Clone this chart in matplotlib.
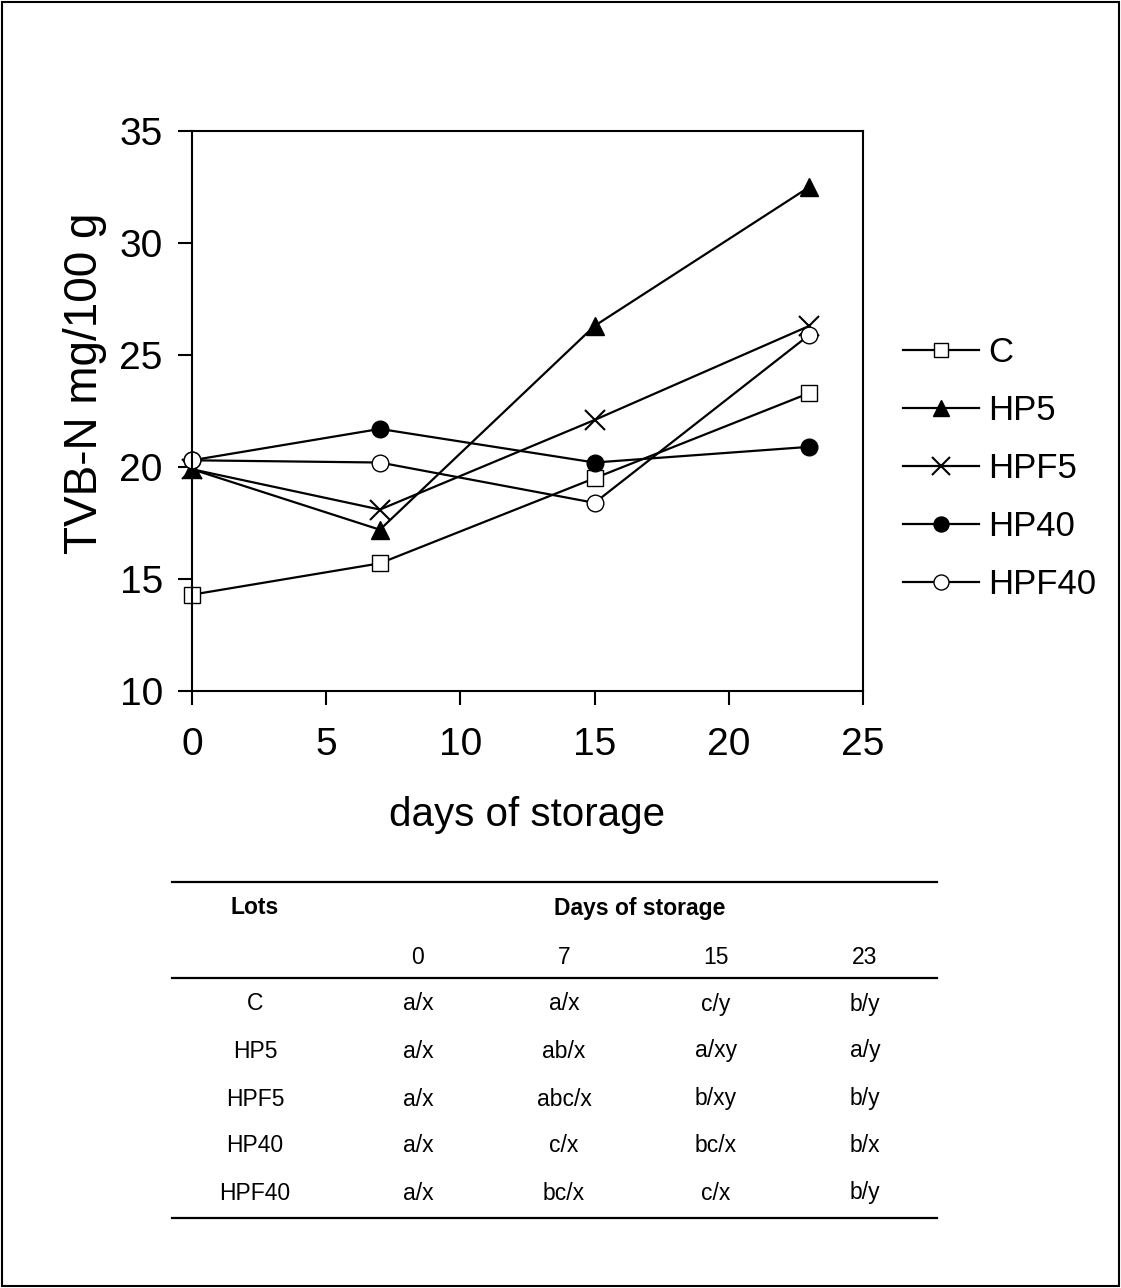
import numpy as np
import matplotlib.pyplot as plt
from matplotlib.lines import Line2D

plt.rcParams['font.family'] = ['Liberation Sans', 'DejaVu Sans']

days = [0, 7, 15, 23]
lots = ["C", "HP5", "HPF5", "HP40", "HPF40"]
tvbn_c = [14.3, 15.7, 19.5, 23.3]
tvbn_hp5 = [19.9, 17.2, 26.3, 32.5]
tvbn_hpf5 = [19.9, 18.1, 22.1, 26.3]
tvbn_hp40 = [20.3, 21.7, 20.2, 20.9]
tvbn_hpf40 = [20.3, 20.2, 18.4, 25.9]

# significance letters for the table below the chart
sig_c = ["a/x", "a/x", "c/y", "b/y"]
sig_hp5 = ["a/x", "ab/x", "a/xy", "a/y"]
sig_hpf5 = ["a/x", "abc/x", "b/xy", "b/y"]
sig_hp40 = ["a/x", "c/x", "bc/x", "b/x"]
sig_hpf40 = ["a/x", "bc/x", "c/x", "b/y"]

W, H = 1121, 1288
fig = plt.figure(figsize=(W / 100, H / 100), dpi=100)
ax = fig.add_axes([192 / W, 1 - 691 / H, (863 - 192) / W, 560 / H])

styles = [
    dict(marker="s", mfc="white", ms=11),
    dict(marker="^", mfc="black", ms=13),
    dict(marker="x", mfc="black", ms=14, mew=1.5),
    dict(marker="o", mfc="black", ms=12),
    dict(marker="o", mfc="white", ms=12),
]
series = [tvbn_c, tvbn_hp5, tvbn_hpf5, tvbn_hp40, tvbn_hpf40]
for name, vals, st in zip(lots, series, styles):
    ax.plot(days, vals, color="black", lw=1.6, mec="black", label=name,
            clip_on=False, **st)

ax.set_xlim(0, 25)
ax.set_ylim(10, 35)
ax.set_xticks([0, 5, 10, 15, 20, 25])
ax.set_yticks([10, 15, 20, 25, 30, 35])
ax.tick_params(direction="out", length=10, width=1.5, labelsize=28)
ax.tick_params(axis="x", pad=16)
ax.tick_params(axis="y", pad=11)
for s in ax.spines.values():
    s.set_linewidth(1.5)
ax.set_xlabel("days of storage", fontsize=29, va="top")
ax.xaxis.set_label_coords(0.5, -0.188)
ax.set_ylabel("TVB-N mg/100 g", fontsize=33, va="center")
ax.yaxis.set_label_coords(-0.16, 0.55)

fig.legend(loc="upper left", bbox_to_anchor=(903 / W, 1 - 336 / H),
           frameon=False, fontsize=25, handlelength=2.2, handletextpad=0.25,
           labelspacing=0.72, borderaxespad=0, borderpad=0, markerscale=0.9)

# table
x0, x1 = 172 / W, 937 / W
for yy in [882, 978, 1218]:
    fig.add_artist(Line2D([x0, x1], [1 - yy / H] * 2, color="black", lw=1.6))

col_x = [255, 418, 564, 716, 865]
tfs = 16.5
fig.text(col_x[0] / W, 1 - 908 / H, "Lots", ha="center", va="center",
         fontsize=tfs, fontweight="bold")
fig.text(640 / W, 1 - 908 / H, "Days of storage", ha="center", va="center",
         fontsize=tfs, fontweight="bold")
for cx, d in zip(col_x[1:], days):
    fig.text(cx / W, 1 - 957 / H, str(d), ha="center", va="center", fontsize=tfs)

rows = [sig_c, sig_hp5, sig_hpf5, sig_hp40, sig_hpf40]
row_y = [1004, 1051, 1099, 1146, 1193]
for ry, name, sig in zip(row_y, lots, rows):
    fig.text(col_x[0] / W, 1 - ry / H, name, ha="center", va="center", fontsize=tfs)
    for cx, s in zip(col_x[1:], sig):
        fig.text(cx / W, 1 - ry / H, s, ha="center", va="center", fontsize=tfs)

# outer frame
fig.add_artist(plt.Rectangle((2 / W, 2 / H), 1 - 4 / W, 1 - 4 / H,
                             fill=False, ec="black", lw=1.5,
                             transform=fig.transFigure))

fig.savefig("out.png", dpi=100)
